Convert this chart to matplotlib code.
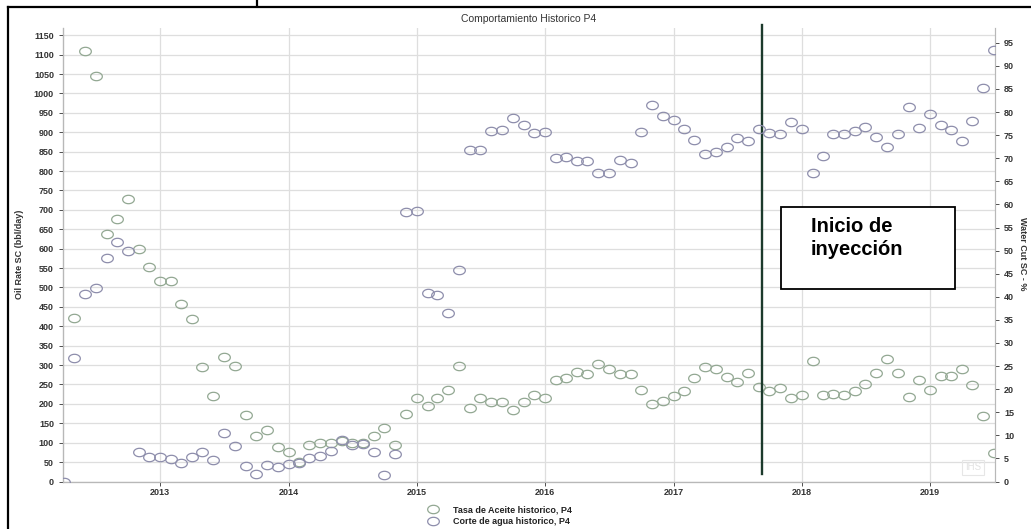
import numpy as np
import pandas as pd
import matplotlib
matplotlib.use("Agg")
import matplotlib.pyplot as plt
import matplotlib.dates as mdates
from matplotlib.path import Path
from matplotlib.patches import Rectangle
from matplotlib.lines import Line2D

plt.rcParams['font.family'] = ['Liberation Sans', 'DejaVu Sans']

# monthly history of well P4
wc_months = pd.date_range("2012-04-01", "2019-07-01", freq="MS")
oil_months = pd.date_range("2012-05-01", "2019-07-01", freq="MS")

# oil rate, bbl/day (left axis)
oil_rate = [422, 1110, 1044, 638, 676, 728, 599, 553,
            517, 517, 457, 419, 295, 220, 321, 298, 172, 118, 134, 90,
            77, 49, 93, 98, 98, 105, 100, 100, 116, 139, 95, 175,
            216, 195, 216, 236, 298, 190, 216, 206, 206, 185, 206, 224,
            216, 262, 267, 283, 277, 303, 290, 278, 278, 236, 200, 208,
            221, 233, 267, 295, 290, 269, 256, 280, 244, 233, 241, 215,
            223, 311, 223, 226, 223, 233, 251, 280, 316, 280, 218, 262,
            236, 272, 272, 290, 249, 169, 73]

# water cut, % (right axis)
water_cut = [0, 26.7, 40.6, 41.9, 48.4, 51.8, 49.9, 6.4, 5.3,
             5.3, 4.9, 4.0, 5.3, 6.4, 4.7, 10.5, 7.7, 3.4, 1.6, 3.6, 3.1,
             3.8, 4.0, 5.1, 5.5, 6.6, 9.0, 7.9, 8.1, 6.4, 1.4, 6.0, 58.3,
             58.5, 40.8, 40.4, 36.5, 45.8, 71.8, 71.8, 75.9, 76.1, 78.7, 77.2, 75.4,
             75.6, 70.0, 70.2, 69.4, 69.4, 66.8, 66.8, 69.6, 68.9, 75.6, 81.5, 79.1,
             78.2, 76.3, 73.9, 70.9, 71.3, 72.4, 74.4, 73.7, 76.3, 75.4, 75.2, 77.8,
             76.3, 66.8, 70.5, 75.2, 75.2, 75.9, 76.7, 74.6, 72.4, 75.2, 81.0, 76.5,
             79.5, 77.2, 76.1, 73.7, 78.0, 85.2, 93.4]

inj_start = pd.Timestamp("2017-09-10")

oil_col = '#93a893'
wc_col = '#8e8eac'
tick_col = '#333333'

# slightly flattened open circle used as marker
t = np.linspace(0, 2 * np.pi, 40)
ellipse = Path(np.column_stack([np.cos(t), 0.72 * np.sin(t)]), closed=True)

W, H = 1031, 529
fig = plt.figure(figsize=(W / 100, H / 100), dpi=100)
ax = fig.add_axes([63 / W, 1 - 481.5 / H, (995 - 63) / W, (481.5 - 28) / H])
ax2 = ax.twinx()

ax.plot(oil_months, oil_rate, ls='none', marker=ellipse, ms=8.4, mfc='none',
        mec=oil_col, mew=0.9, zorder=3)
ax2.plot(wc_months, water_cut, ls='none', marker=ellipse, ms=8.4, mfc='none',
         mec=wc_col, mew=0.9, zorder=3)

ax.set_xlim(pd.Timestamp("2012-03-30"), pd.Timestamp("2019-07-05"))
ax.set_ylim(0, 1168.8)
ax2.set_ylim(0, 98.2)

ax.set_yticks(np.arange(0, 1151, 50))
ax2.set_yticks(np.arange(0, 96, 5))
ax.xaxis.set_major_locator(mdates.YearLocator())
ax.xaxis.set_major_formatter(mdates.DateFormatter('%Y'))

ax.grid(True, color='#dedede', lw=0.9)
ax.set_axisbelow(True)

for a in (ax, ax2):
    a.tick_params(labelsize=6.5, colors=tick_col, length=3, width=0.6)
    for lab in a.get_xticklabels() + a.get_yticklabels():
        lab.set_fontweight('bold')
    for s in a.spines.values():
        s.set_color('#b8b8b8')
        s.set_linewidth(0.8)
ax.spines['left'].set_color('#555555')
ax.spines['bottom'].set_color('#777777')
ax.spines['top'].set_visible(False)
ax2.spines['top'].set_visible(False)
ax.tick_params(axis='x', pad=2)

ax.set_title("Comportamiento Historico P4", fontsize=7.5, color='#333333', pad=4)
fig.text(20 / W, 1 - 254 / H, "Oil Rate SC (bbl/day)", rotation=90, ha='center',
         va='center', fontsize=6.5, fontweight='bold', color=tick_col)
fig.text(1023 / W, 1 - 254 / H, "Water Cut SC - %", rotation=270, ha='center',
         va='center', fontsize=6.5, fontweight='bold', color=tick_col)

# injection start marker
ax.plot([inj_start, inj_start], [20, 1177], color='#1c3a2c', lw=1.7,
        clip_on=False, zorder=4)
fig.add_artist(Rectangle((781 / W, 1 - 289 / H), 174 / W, 82 / H, fill=True,
                         facecolor='white', edgecolor='black', lw=1.3,
                         transform=fig.transFigure, zorder=5))
fig.text(811 / W, 1 - 217 / H, "Inicio de\ninyección", ha='left', va='top',
         fontsize=14.5, fontweight='bold', linespacing=1.3, zorder=6)

# faint logo corner
ax.text(0.985, 0.02, "IHS", transform=ax.transAxes, ha='right', va='bottom',
        fontsize=7, color='#e2e2e2',
        bbox=dict(facecolor='none', edgecolor='#e6e6e6', lw=0.8, pad=2))

handles = [Line2D([], [], ls='none', marker=ellipse, ms=8.4, mfc='none', mec=oil_col, mew=0.9),
           Line2D([], [], ls='none', marker=ellipse, ms=8.4, mfc='none', mec=wc_col, mew=0.9)]
leg = fig.legend(handles, ["Tasa de Aceite historico, P4", "Corte de agua historico, P4"],
                 loc='upper left', bbox_to_anchor=(428 / W, 1 - 505 / H), frameon=False,
                 borderaxespad=0, borderpad=0, handlelength=1.2, handletextpad=1.6,
                 labelspacing=0.35, prop={'size': 6.5, 'weight': 'bold'})
for txt in leg.get_texts():
    txt.set_color('#222222')

# screenshot frame
fig.add_artist(Line2D([8 / W, 1], [1 - 7 / H, 1 - 7 / H], color='black', lw=1.6,
                      transform=fig.transFigure))
fig.add_artist(Line2D([8 / W, 8 / W], [0, 1 - 7 / H], color='black', lw=1.6,
                      transform=fig.transFigure))
fig.add_artist(Line2D([257 / W, 257 / W], [1, 1 - 6 / H], color='black', lw=1.6,
                      transform=fig.transFigure))

fig.savefig("out.png", dpi=100)
